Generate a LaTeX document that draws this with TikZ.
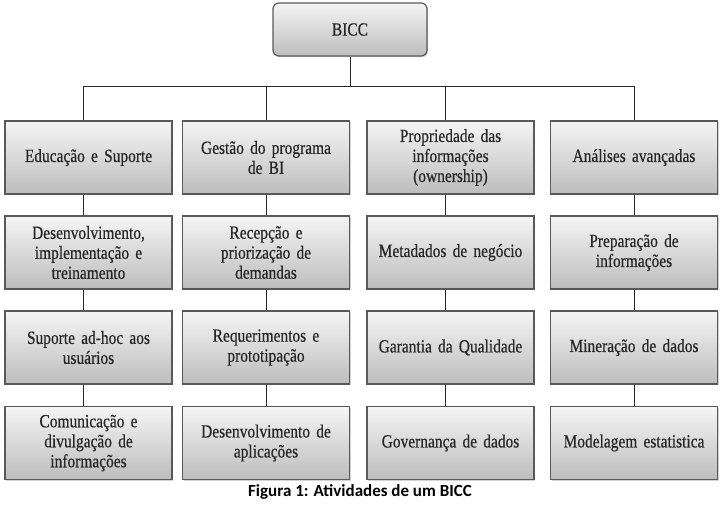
\documentclass[tikz,border=0pt]{standalone}
\usepackage{fontspec}
\setmainfont{Liberation Serif}[FakeStretch=0.83, FakeBold=0.5]
\newfontfamily\legendafont{Carlito}
\usetikzlibrary{shadows, positioning}

\begin{document}
\begin{tikzpicture}[x=1pt, y=1pt,
	caixa/.style={draw=black!65, line width=1.2pt, top color=black!4, bottom color=black!26,
		drop shadow={shadow xshift=1.2pt, shadow yshift=-1.2pt, opacity=.35},
		minimum width=167pt, minimum height=73pt, text width=160pt, align=center,
		font=\fontsize{18.6}{20}\selectfont, text=black!85, inner sep=0pt},
	liga/.style={draw=black!85, line width=.8pt}]
	\useasboundingbox (0,0) rectangle (720,-504);

	% topo
	\node[caixa, minimum width=154pt, minimum height=53pt, rounded corners=6pt, text width=140pt] (bicc) at (350,-29.5) {BICC};
	\coordinate (barra) at (351,-86);

	% Educacao e Suporte
	\node[caixa] (e1) at (88.5,-157.5) {Educação e Suporte};
	\node[caixa] (e2) at (88.5,-252.5) {Desenvolvimento,\\implementação e\\treinamento};
	\node[caixa] (e3) at (88.5,-347.5) {Suporte ad-hoc aos\\usuários};
	\node[caixa] (e4) at (88.5,-443) {Comunicação e\\divulgação de\\informações};

	% Gestao do programa
	\node[caixa] (g1) at (266,-157.5) {Gestão do programa\\de BI};
	\node[caixa] (g2) at (266,-252.5) {Recepção e\\priorização de\\demandas};
	\node[caixa] (g3) at (266,-347.5) {Requerimentos e\\prototipação};
	\node[caixa] (g4) at (266,-443) {Desenvolvimento de\\aplicações};

	% Propriedade das informacoes
	\node[caixa] (p1) at (450.5,-157.5) {Propriedade das\\informações\\(ownership)};
	\node[caixa] (p2) at (450.5,-252.5) {Metadados de negócio};
	\node[caixa] (p3) at (450.5,-347.5) {Garantia da Qualidade};
	\node[caixa] (p4) at (450.5,-443) {Governança de dados};

	% Analises avancadas
	\node[caixa] (a1) at (634,-157.5) {Análises avançadas};
	\node[caixa] (a2) at (634,-252.5) {Preparação de\\informações};
	\node[caixa] (a3) at (634,-347.5) {Mineração de dados};
	\node[caixa] (a4) at (634,-443) {Modelagem estatistica};

	% ligacoes
	\draw[liga] (bicc.south) -- (bicc.south |- barra);
	\draw[liga] ([xshift=-5.5pt]e1.north |- barra) -- (a1.north |- barra);
	\foreach \c/\d in {e/-5.5, g/0, p/-5.5, a/0} {
		\draw[liga] ([xshift=\d pt]\c1.north) -- ([xshift=\d pt]\c1.north |- barra);
		\draw[liga] ([xshift=\d pt]\c1.south) -- ([xshift=\d pt]\c2.north);
		\draw[liga] ([xshift=\d pt]\c2.south) -- ([xshift=\d pt]\c3.north);
		\draw[liga] ([xshift=\d pt]\c3.south) -- ([xshift=\d pt]\c4.north);
	}

	\node[font=\legendafont\bfseries\fontsize{17}{20}\selectfont] (legenda) at (360,-492) {Figura 1: Atividades de um BICC};
\end{tikzpicture}
\end{document}
